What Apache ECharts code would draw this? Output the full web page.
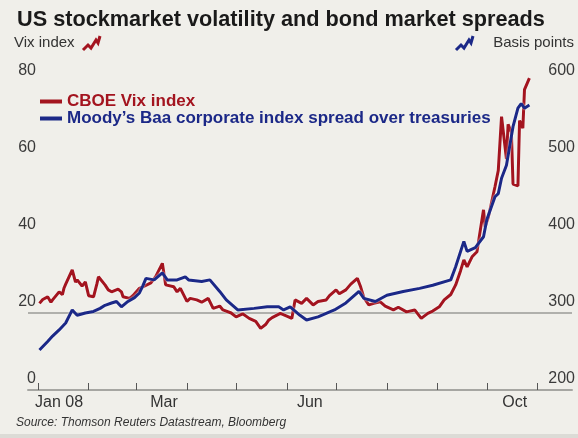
<!DOCTYPE html>
<html>
<head>
<meta charset="utf-8">
<script src="https://cdn.jsdelivr.net/npm/echarts@6/dist/echarts.min.js"></script>
<style>
  html, body { margin: 0; padding: 0; background: #f0efea; }
  #chart { width: 578px; height: 438px; }
</style>
</head>
<body>
<div id="chart"></div>
<script>
  // CBOE Vix index
  var vixDates = [
    '2008-01-02','2008-01-04','2008-01-07','2008-01-09','2008-01-10','2008-01-14','2008-01-16','2008-01-17',
    '2008-01-18','2008-01-22','2008-01-24','2008-01-25','2008-01-28','2008-01-30','2008-02-01','2008-02-04',
    '2008-02-06','2008-02-07','2008-02-11','2008-02-13','2008-02-15','2008-02-19','2008-02-21','2008-02-22',
    '2008-02-26','2008-02-28','2008-03-03','2008-03-06','2008-03-10','2008-03-13','2008-03-17','2008-03-19',
    '2008-03-24','2008-03-26','2008-03-28','2008-04-01','2008-04-03','2008-04-07','2008-04-10','2008-04-14',
    '2008-04-17','2008-04-21','2008-04-23','2008-04-28','2008-05-01','2008-05-05','2008-05-09','2008-05-13',
    '2008-05-16','2008-05-19','2008-05-21','2008-05-23','2008-05-28','2008-06-02','2008-06-04','2008-06-06',
    '2008-06-10','2008-06-13','2008-06-17','2008-06-20','2008-06-25','2008-06-27','2008-07-01','2008-07-03',
    '2008-07-07','2008-07-10','2008-07-14','2008-07-16','2008-07-18','2008-07-21','2008-07-24','2008-07-28',
    '2008-07-31','2008-08-05','2008-08-08','2008-08-13','2008-08-18','2008-08-22','2008-08-26','2008-08-29',
    '2008-09-02','2008-09-05','2008-09-09','2008-09-12','2008-09-15','2008-09-17','2008-09-19','2008-09-22',
    '2008-09-25','2008-09-29','2008-09-30','2008-10-02','2008-10-06','2008-10-08','2008-10-09','2008-10-10',
    '2008-10-13','2008-10-14','2008-10-16','2008-10-17','2008-10-20','2008-10-21','2008-10-23','2008-10-24',
    '2008-10-27'
  ];
  var vixValues = [
    22.5, 23.5, 24.2, 22.8, 23.4, 25.5, 24.8, 26.5,
    27.5, 31.2, 28.0, 28.6, 27.0, 28.1, 24.5, 24.2,
    27.5, 29.4, 27.3, 26.0, 25.5, 26.2, 25.5, 24.2,
    23.8, 24.5, 26.4, 27.0, 27.8, 29.5, 32.9, 27.3,
    26.8, 25.5, 26.4, 23.0, 23.8, 23.4, 22.8, 23.8,
    21.2, 21.8, 20.8, 20.0, 19.0, 19.8, 18.6, 17.8,
    16.0, 17.0, 18.2, 18.8, 19.9, 19.0, 18.6, 23.4,
    22.5, 23.8, 22.1, 23.0, 23.4, 24.5, 26.0, 25.0,
    26.0, 27.5, 29.0, 26.8, 24.0, 22.1, 22.5, 22.9,
    21.8, 20.8, 21.5, 20.3, 20.8, 18.6, 19.9, 20.5,
    21.6, 23.4, 24.8, 27.3, 31.0, 33.8, 32.0, 34.6,
    35.9, 46.8, 42.4, 45.0, 52.8, 57.0, 64.0, 71.0,
    60.0, 69.0, 67.0, 53.5, 53.0, 70.0, 68.0, 78.0,
    81.0
  ];

  // Moody's Baa spread over treasuries, basis points
  var spreadDates = [
    '2008-01-02','2008-01-07','2008-01-10','2008-01-14','2008-01-18','2008-01-22','2008-01-25','2008-01-30',
    '2008-02-04','2008-02-08','2008-02-11','2008-02-15','2008-02-18','2008-02-21','2008-02-25','2008-02-29',
    '2008-03-03','2008-03-05','2008-03-07','2008-03-12','2008-03-17','2008-03-20','2008-03-26','2008-03-31',
    '2008-04-02','2008-04-10','2008-04-15','2008-04-21','2008-04-25','2008-05-02','2008-05-12','2008-05-20',
    '2008-05-27','2008-05-30','2008-06-03','2008-06-09','2008-06-13','2008-06-20','2008-06-30','2008-07-07',
    '2008-07-15','2008-07-18','2008-07-25','2008-08-01','2008-08-11','2008-08-21','2008-08-29','2008-09-09',
    '2008-09-12','2008-09-17','2008-09-19','2008-09-24','2008-09-29','2008-10-01','2008-10-06','2008-10-08',
    '2008-10-10','2008-10-13','2008-10-14','2008-10-17','2008-10-20','2008-10-22','2008-10-24','2008-10-27'
  ];
  var spreadValues = [
    252, 263, 270, 278, 287, 304, 297, 300,
    302, 306, 310, 313, 315, 308, 315, 320,
    326, 335, 345, 343, 352, 343, 343, 347,
    343, 341, 343, 328, 317, 304, 306, 308,
    308, 304, 308, 297, 291, 295, 304, 313,
    328, 319, 315, 323, 328, 332, 336, 343,
    360, 393, 380, 385, 399, 421, 451, 455,
    475, 492, 494, 542, 566, 572, 566, 570
  ];

  // month starts (tick marks) and label positions, in days since 1 Jan 2008
  var monthStarts = ['2008-01-01','2008-02-01','2008-03-01','2008-04-01','2008-05-01','2008-06-01',
                     '2008-07-01','2008-08-01','2008-09-01','2008-10-01','2008-11-01'];
  var monthLabels = ['Jan 08', 'Mar', 'Jun', 'Oct'];
  var monthLabelDates = ['2008-01-14','2008-03-18','2008-06-15','2008-10-18'];

  var dayOf = function (s) {
    var p = s.split('-');
    return (Date.UTC(+p[0], +p[1] - 1, +p[2]) - Date.UTC(2008, 0, 1)) / 864e5;
  };
  var zip = function (dates, values) {
    return dates.map(function (d, i) { return [dayOf(d), values[i]]; });
  };

  var RED = '#a3141f';
  var BLUE = '#1b2887';
  var labelFont = 'Liberation Sans, Arial, sans-serif';
  var labelPos = monthLabelDates.map(dayOf);

  var myChart = echarts.init(document.getElementById('chart'));
  var option = {
    backgroundColor: '#f0efea',
    animation: false,
    grid: { left: 28, right: 5, top: 82, bottom: 48 },
    title: {
      text: 'US stockmarket volatility and bond market spreads',
      left: 12, top: 4,
      textStyle: { fontFamily: labelFont, fontSize: 21.7, fontWeight: 'bold', color: '#1a1a1a' }
    },
    legend: {
      orient: 'vertical',
      left: 35, top: 88,
      icon: 'rect',
      itemWidth: 22, itemHeight: 4, itemGap: 0,
      textStyle: { fontFamily: labelFont, fontSize: 17, fontWeight: 'bold' },
      data: [
        { name: 'CBOE Vix index', textStyle: { color: RED } },
        { name: 'Moody\u2019s Baa corporate index spread over treasuries', textStyle: { color: BLUE } }
      ]
    },
    graphic: [
      { type: 'text', left: 14, top: 35,
        style: { text: 'Vix index', fontFamily: labelFont, fontSize: 15, fill: '#333' } },
      { type: 'polyline', shape: { points: [[83, 50], [88, 45], [91, 48], [96, 40], [98, 43], [100, 36]] },
        style: { stroke: RED, lineWidth: 3, fill: null } },
      { type: 'polyline', shape: { points: [[456, 50], [461, 45], [464, 48], [469, 40], [471, 43], [473, 36]] },
        style: { stroke: BLUE, lineWidth: 3, fill: null } },
      { type: 'text', right: 4, top: 35,
        style: { text: 'Basis points', fontFamily: labelFont, fontSize: 15, fill: '#333' } },
      { type: 'text', left: 16, top: 417,
        style: { text: 'Source: Thomson Reuters Datastream, Bloomberg', fontFamily: labelFont,
                 fontSize: 12, fontStyle: 'italic', fill: '#333' } },
      { type: 'rect', left: 0, top: 434, shape: { width: 578, height: 4 }, style: { fill: '#dcdbd6' } }
    ],
    xAxis: {
      type: 'value',
      min: -6, max: 326,
      splitLine: { show: false },
      axisLine: { lineStyle: { color: '#a6a6a2', width: 2 } },
      axisTick: {
        inside: true, length: 7,
        customValues: monthStarts.map(dayOf),
        lineStyle: { color: '#555', width: 1 }
      },
      axisLabel: {
        customValues: labelPos,
        margin: 5,
        fontFamily: labelFont, fontSize: 16, color: '#333',
        formatter: function (v) {
          var i = labelPos.indexOf(v);
          return i >= 0 ? monthLabels[i] : '';
        }
      }
    },
    yAxis: [
      {
        type: 'value', min: 0, max: 80, interval: 20,
        axisLine: { show: false }, axisTick: { show: false },
        splitLine: { lineStyle: { color: ['rgba(0,0,0,0)', '#b0b0ac', 'rgba(0,0,0,0)', 'rgba(0,0,0,0)', 'rgba(0,0,0,0)'], width: 2 } },
        axisLabel: {
          margin: -8, align: 'right', verticalAlign: 'bottom', padding: [0, 0, 3, 0],
          fontFamily: labelFont, fontSize: 16, color: '#3a3a3a'
        }
      },
      {
        type: 'value', min: 200, max: 600, interval: 100,
        axisLine: { show: false }, axisTick: { show: false }, splitLine: { show: false },
        axisLabel: {
          margin: 3, align: 'right', verticalAlign: 'bottom', padding: [0, 0, 3, 0],
          fontFamily: labelFont, fontSize: 16, color: '#3a3a3a'
        }
      }
    ],
    series: [
      {
        name: 'CBOE Vix index',
        type: 'line',
        yAxisIndex: 0,
        showSymbol: false,
        clip: false,
        color: RED,
        lineStyle: { color: RED, width: 3, shadowColor: 'rgba(255,255,255,0.9)', shadowBlur: 2 },
        data: zip(vixDates, vixValues)
      },
      {
        name: 'Moody\u2019s Baa corporate index spread over treasuries',
        type: 'line',
        yAxisIndex: 1,
        showSymbol: false,
        color: BLUE,
        lineStyle: { color: BLUE, width: 3, shadowColor: 'rgba(255,255,255,0.9)', shadowBlur: 2 },
        data: zip(spreadDates, spreadValues)
      }
    ]
  };
  myChart.setOption(option);
</script>
</body>
</html>
